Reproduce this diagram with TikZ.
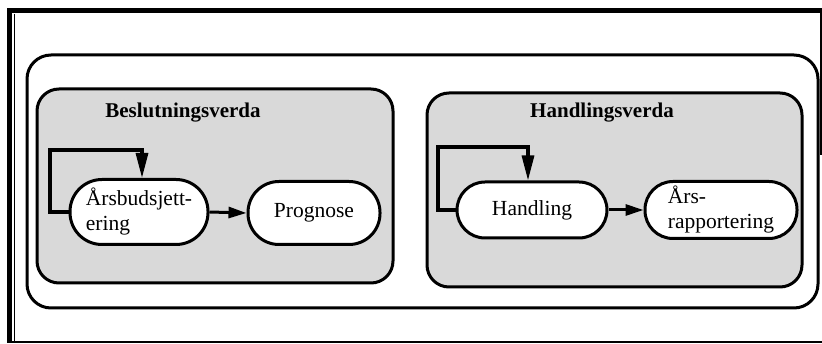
\documentclass[tikz,border=0pt]{standalone}
\usepackage{fontspec}
\setmainfont{Liberation Serif}
\usetikzlibrary{arrows.meta}
\begin{document}
\begin{tikzpicture}[x=1pt,y=-1pt,
  frameline/.style={line width=4.5pt},
  bigbox/.style={draw,line width=3pt,rounded corners=24pt},
  worldbox/.style={draw,line width=3pt,rounded corners=22pt,fill=black!15},
  procbox/.style={draw,line width=3pt,fill=white,inner sep=0pt,align=left,
    font=\fontsize{21.5}{25}\selectfont},
  title/.style={font=\fontsize{21}{25}\selectfont\bfseries},
  flow/.style={line width=3pt,-{Triangle[length=18pt,width=11pt]}},
  loop/.style={line width=3.2pt,-{Triangle[length=25pt,width=12pt]}}]
\useasboundingbox (0,0) rectangle (822,344);
% outer frame
\draw[frameline] (7,10.5) -- (822,10.5);
\draw[frameline] (9.5,8.5) -- (9.5,342);
\draw[line width=1.2pt] (14.5,14) -- (14.5,342);
\draw[line width=2pt] (7,342.5) -- (822,342.5);
\draw[line width=1.5pt] (821,10) -- (821,155);
% big box
\draw[bigbox] (27,55) rectangle (818,308);
% worlds
\draw[worldbox] (37,89) rectangle (393,283);
\draw[worldbox] (427,93) rectangle (802,287);
\node[title] (t1) at (183,113) {Beslutningsverda};
\node[title] (t2) at (602,113) {Handlingsverda};
% processes
\node[procbox,minimum width=138pt,minimum height=65pt,rounded corners=32pt] (a) at (139,212) {Årsbudsjett-\\ering};
\node[procbox,minimum width=132pt,minimum height=63pt,rounded corners=31pt] (p) at (314,213) {Prognose};
\node[procbox,minimum width=150pt,minimum height=56pt,rounded corners=28pt] (h) at (532,210) {Handling};
\node[procbox,minimum width=152pt,minimum height=57pt,rounded corners=28pt] (r) at (721,210) {Års-\\rapportering};
% connectors
\draw[flow] (a.east) -- (p.west);
\draw[flow] (h.east) -- (r.west);
\coordinate (la) at (50,212);
\coordinate (ta) at (142,150);
\draw[loop] (a.west) -- (la) |- (ta) -- (ta |- a.north);
\coordinate (lh) at (438,210);
\coordinate (th) at (528,147);
\draw[loop] (h.west) -- (lh) |- (th) -- (th |- h.north);
\end{tikzpicture}
\end{document}
